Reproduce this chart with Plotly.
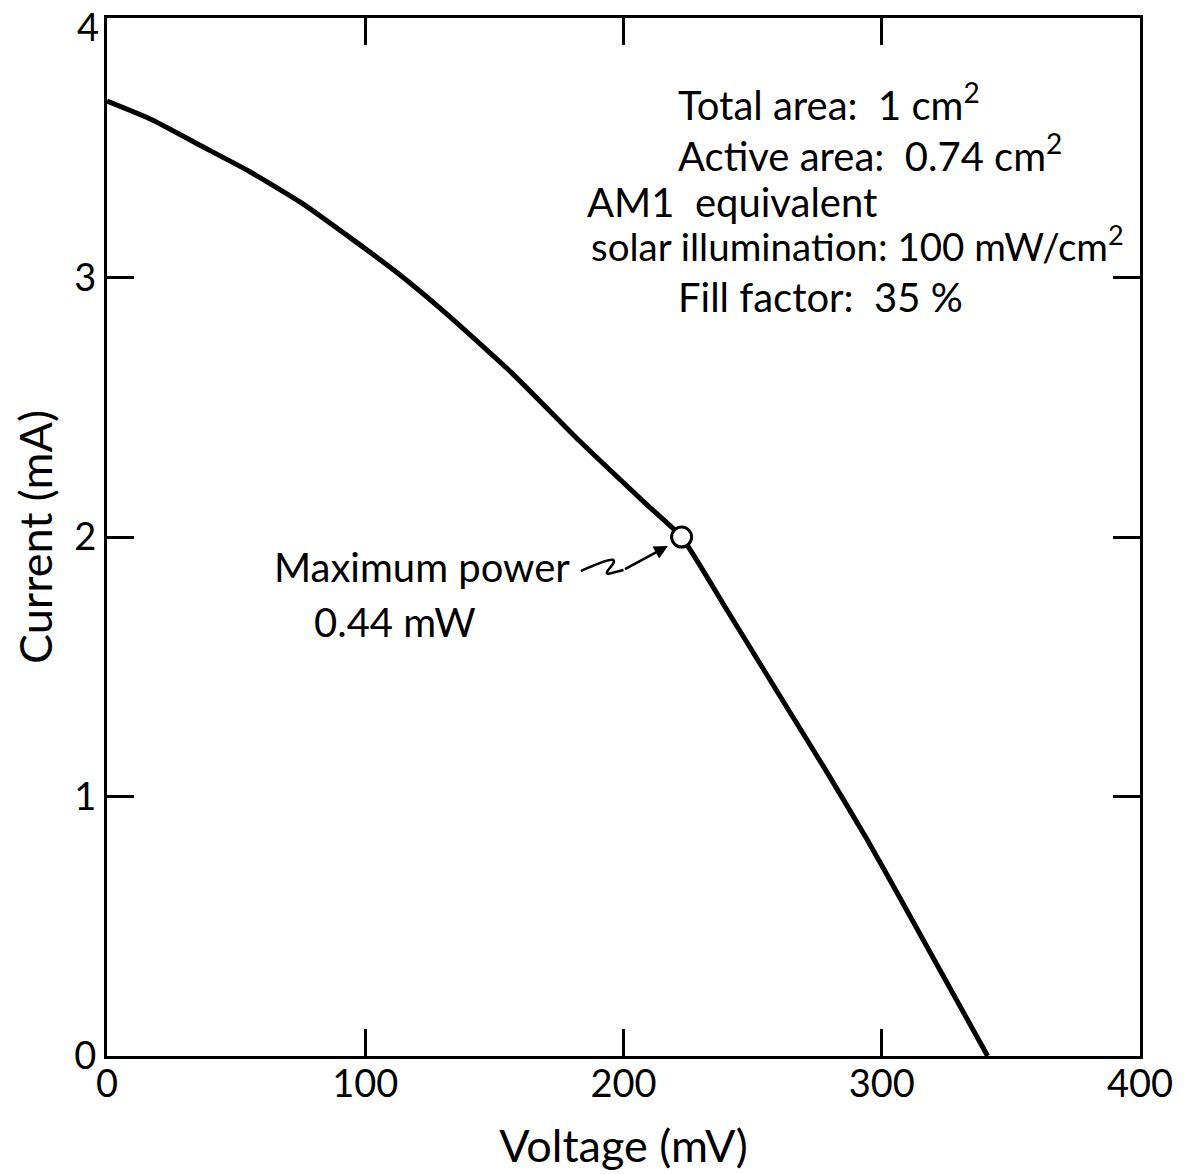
import plotly.graph_objects as go

# I-V curve data
voltage_mv = [0, 17, 36, 55, 75, 94, 113.5, 131.5, 157, 183, 209, 222.5,
              240, 253, 266, 279, 294, 307, 341]
current_ma = [3.68, 3.61, 3.51, 3.41, 3.29, 3.155, 3.01, 2.86, 2.63, 2.37, 2.125, 2.0,
              1.72, 1.51, 1.30, 1.09, 0.84, 0.61, 0]

max_power_v = [222.5]
max_power_i = [2.0]

x_ticks = [0, 100, 200, 300, 400]
y_ticks = [0, 1, 2, 3, 4]

FONT = "Lato"

fig = go.Figure()
fig.add_trace(go.Scatter(x=voltage_mv, y=current_ma, mode="lines",
                         line=dict(color="black", width=5, shape="spline", smoothing=0.5),
                         showlegend=False, hoverinfo="skip"))
fig.add_trace(go.Scatter(x=max_power_v, y=max_power_i, mode="markers",
                         marker=dict(symbol="circle", size=20, color="white",
                                     line=dict(color="black", width=3)),
                         showlegend=False, hoverinfo="skip"))

axis_common = dict(showgrid=False, zeroline=False, showline=True, linecolor="black",
                   linewidth=3, mirror="ticks", ticks="inside", ticklen=27, tickwidth=2.5,
                   tickcolor="black", tickfont=dict(family=FONT, size=38, color="black"),
                   ticklabeloverflow="allow", automargin=False)

fig.update_xaxes(range=[0, 400], tickvals=x_ticks, ticktext=[str(v) for v in x_ticks],
                 ticklabelstandoff=-8,
                 title=dict(text="Voltage (mV)", font=dict(family=FONT, size=45, color="black"),
                            standoff=27), **axis_common)
# the top label sits at the very edge of the page, so it is drawn slightly lower as an annotation
fig.update_yaxes(range=[0, 4.0005], tickvals=y_ticks,
                 ticktext=[str(v) if v != y_ticks[-1] else "" for v in y_ticks],
                 title=dict(text="Current (mA)", font=dict(family=FONT, size=45, color="black"),
                            standoff=14), **axis_common)
fig.add_annotation(x=0, y=y_ticks[-1], xref="x", yref="y", text=str(y_ticks[-1]),
                   showarrow=False, xanchor="right", yanchor="middle", xshift=-6, yshift=-8,
                   font=dict(family=FONT, size=38, color="black"))

notes = [
    ("Total area:  1 cm<sup>2</sup>", 220.5, 3.676, 40),
    ("Active area:  0.74 cm<sup>2</sup>", 220.5, 3.48, 40),
    ("AM1  equivalent", 185, 3.29, 40),
    ("solar illumination: 100 mW/cm<sup>2</sup>", 186.5, 3.13, 38.5),
    ("Fill factor:  35 %", 220.5, 2.925, 40),
    ("Maximum power", 64, 1.884, 40),
    ("0.44 mW", 79.5, 1.672, 40),
]
for text, x, y, size in notes:
    fig.add_annotation(x=x, y=y, xref="x", yref="y", text=text, showarrow=False,
                       xanchor="left", yanchor="middle",
                       font=dict(family=FONT, size=size, color="black"))

# squiggly leader from the label towards the maximum power point
fig.add_shape(type="path", xref="x", yref="y",
              path="M 183.5 1.869 C 188 1.888, 194 1.918, 196 1.912 "
                   "C 197.5 1.900, 192 1.862, 194 1.858 L 200 1.873",
              line=dict(color="black", width=2.5))
fig.add_annotation(x=217.2, y=1.966, xref="x", yref="y", ax=200, ay=1.873, axref="x", ayref="y",
                   text="", showarrow=True, arrowhead=2, arrowsize=1.1, arrowwidth=2.5,
                   arrowcolor="black")

# page body has an 8px default margin; size the figure to fit the 1186x1174 window
fig.update_layout(width=1178, height=1166, margin=dict(l=99, r=46, t=10, b=118),
                  plot_bgcolor="white", paper_bgcolor="white",
                  font=dict(family=FONT, color="black"))

fig.write_html("out.html")
